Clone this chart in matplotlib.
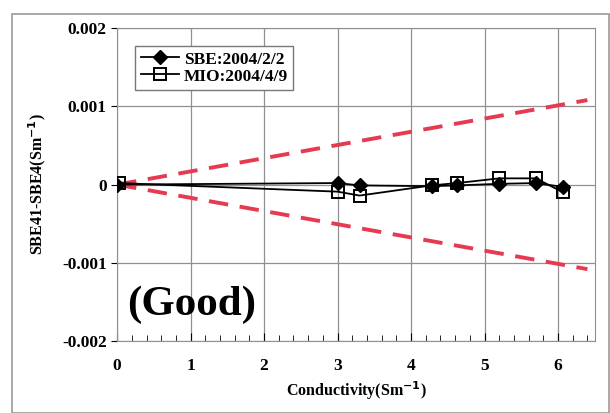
import matplotlib
matplotlib.use("Agg")
import matplotlib.pyplot as plt
import matplotlib.patches as patches
from matplotlib.ticker import MultipleLocator

# data
sbe_x = [0.0, 3.0, 3.3, 4.28, 4.63, 5.2, 5.7, 6.07]
sbe_y = [0.0, 0.00002, -0.00001, -0.00002, -0.00001, 0.00001, 0.00002, -0.00003]
mio_x = [0.02, 3.0, 3.3, 4.28, 4.63, 5.2, 5.7, 6.07]
mio_y = [0.00002, -0.00009, -0.00014, -0.00001, 0.00002, 0.00008, 0.00008, -0.0001]
limit_x = [0.0, 6.4]
limit_up = [0.0, 0.00108]
limit_dn = [0.0, -0.00108]

plt.rcParams['font.family'] = ['Liberation Serif', 'DejaVu Serif']
plt.rcParams['font.weight'] = 'bold'
plt.rcParams['mathtext.default'] = 'bf'

fig = plt.figure(figsize=(6.1, 4.13), dpi=100)
ax = fig.add_axes([0.192, 0.174, 0.783, 0.758])

# outer frame of the picture
fig.patches.append(patches.Rectangle((0.02, 0.0), 0.978, 0.967, transform=fig.transFigure,
                                     fill=False, edgecolor='#999999', lw=1.2))

ax.plot(limit_x, limit_up, color='#e63a50', lw=2.8, dashes=(5, 3), zorder=3)
ax.plot(limit_x, limit_dn, color='#e63a50', lw=2.8, dashes=(5, 3), zorder=3)

ax.plot(sbe_x, sbe_y, color='black', lw=1.3, marker='D', ms=7, mfc='black',
        label='SBE:2004/2/2', zorder=4)
ax.plot(mio_x, mio_y, color='black', lw=1.3, marker='s', ms=8.5, mfc='none', mew=1.4,
        label='MIO:2004/4/9', zorder=4)

ax.set_xlim(0, 6.5)
ax.set_ylim(-0.002, 0.002)
ax.xaxis.set_major_locator(MultipleLocator(1))
ax.xaxis.set_minor_locator(MultipleLocator(0.2))
ax.set_yticks([-0.002, -0.001, 0, 0.001, 0.002])
ax.set_yticklabels(['-0.002', '-0.001', '0', '0.001', '0.002'])
ax.grid(True, which='major', color='#909090', lw=0.9)
ax.tick_params(axis='x', which='major', direction='in', length=6, labelsize=12.5, pad=12)
ax.tick_params(axis='x', which='minor', direction='in', length=4)
ax.tick_params(axis='y', direction='out', length=4, labelsize=12.5)
for s in ax.spines.values():
    s.set_color('#909090')

ax.set_xlabel('Conductivity(Sm$^{-1}$)', fontsize=11.5, fontweight='bold', labelpad=4)
ax.set_ylabel('SBE41-SBE4(Sm$^{-1}$)', fontsize=11.5, fontweight='bold', labelpad=10)

ax.text(0.13, -0.00153, '(Good)', fontsize=31, fontweight='bold', va='center')

leg = ax.legend(loc='upper left', bbox_to_anchor=(0.02, 0.97), fontsize=12.5,
                handlelength=2.2, handletextpad=0.3, borderpad=0.3, labelspacing=0.05,
                fancybox=False, framealpha=1, edgecolor='#777777')
leg.get_frame().set_linewidth(1)

fig.savefig('out.png', dpi=100)
